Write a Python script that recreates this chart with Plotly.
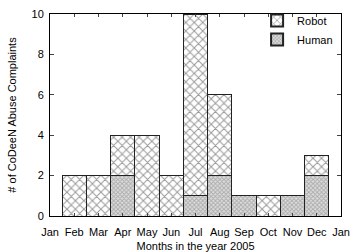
import plotly.graph_objects as go

months = ["Jan", "Feb", "Mar", "Apr", "May", "Jun", "Jul", "Aug", "Sep", "Oct", "Nov", "Dec", "Jan"]
bar_months = ["Feb", "Mar", "Apr", "May", "Jun", "Jul", "Aug", "Sep", "Oct", "Nov", "Dec"]
human = [0, 0, 2, 0, 0, 1, 2, 1, 0, 1, 2]
robot = [2, 2, 2, 4, 2, 9, 4, 0, 1, 0, 1]

xpos = [months.index(m) for m in bar_months]

fig = go.Figure()
fig.add_trace(go.Bar(
    x=xpos, y=human, name="Human", width=1,
    marker=dict(color="#d4d4d4", line=dict(color="#222222", width=1),
                pattern=dict(shape="x", size=3, solidity=0.5, fgcolor="#777777", bgcolor="#dddddd")),
))
fig.add_trace(go.Bar(
    x=xpos, y=robot, name="Robot", width=1,
    marker=dict(color="white", line=dict(color="#222222", width=1),
                pattern=dict(shape="x", size=6, solidity=0.3, fgcolor="#333333", bgcolor="white")),
))

font = dict(family="Liberation Sans, Arial, sans-serif", size=11, color="black")
fig.update_layout(
    barmode="stack",
    width=360, height=252,
    margin=dict(l=50, r=19, t=14, b=36, autoexpand=False),
    paper_bgcolor="white", plot_bgcolor="white",
    font=font,
    showlegend=True,
    legend=dict(x=0.99, y=1.04, xanchor="right", yanchor="top", traceorder="reversed",
                bgcolor="rgba(0,0,0,0)", font=dict(size=11), itemwidth=30,
                tracegroupgap=0, itemsizing="constant"),
    xaxis=dict(range=[0, 12], tickmode="array", tickvals=list(range(13)), ticktext=months,
               showline=True, linecolor="black", linewidth=1, mirror="ticks", ticks="inside", ticklen=3,
               showgrid=False, zeroline=False, automargin=False, ticklabelstandoff=6,
               title=dict(text="Months in the year 2005", standoff=6, font=dict(size=11))),
    yaxis=dict(range=[0, 10], tickvals=[0, 2, 4, 6, 8, 10],
               showline=True, linecolor="black", linewidth=1, mirror="ticks", ticks="inside", ticklen=4,
               showgrid=False, zeroline=False, automargin=False, ticklabelstandoff=3,
               title=dict(text="# of CoDeeN Abuse Complaints", standoff=12, font=dict(size=11))),
)

fig.write_html("out.html")
